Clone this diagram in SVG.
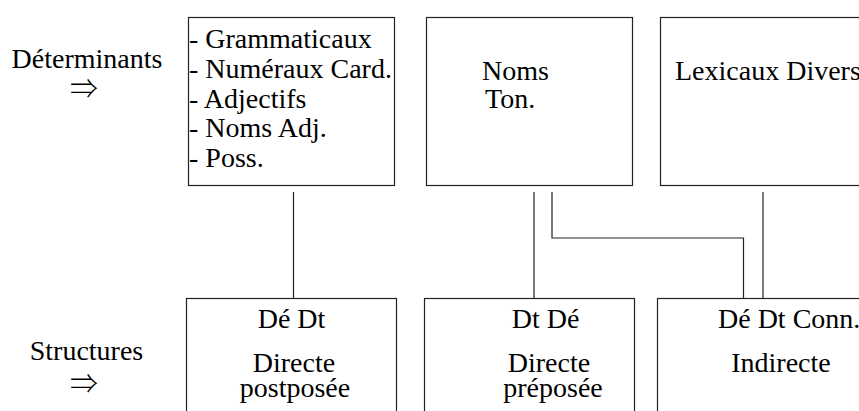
<svg xmlns="http://www.w3.org/2000/svg" width="859" height="411" viewBox="0 0 859 411">
  <style>
    .box { fill: #ffffff; stroke: #222222; stroke-width: 1.2; }
    .conn { fill: none; stroke: #222222; stroke-width: 1.2; }
    text { font-family: "Liberation Serif", "Times New Roman", serif; font-size: 28px; fill: #000000; }
    .mid { text-anchor: middle; }
    .arrow { font-family: "Noto Sans CJK JP", "DejaVu Serif", sans-serif; font-size: 28px; font-weight: 300; text-anchor: middle; }
  </style>
  <rect x="0" y="0" width="859" height="411" fill="#ffffff"/>

  <g id="label-determinants">
    <text class="mid" x="87" y="68">Déterminants</text>
    <text class="arrow" x="84" y="98.5">⇒</text>
  </g>
  <g id="label-structures">
    <text class="mid" x="86.5" y="360">Structures</text>
    <text class="arrow" x="84" y="393.5">⇒</text>
  </g>

  <g id="node-grammaticaux">
    <rect class="box" x="188.5" y="17.5" width="206" height="168"/>
    <text x="189" y="48">- Grammaticaux</text>
    <text x="189" y="77.8">- Numéraux Card.</text>
    <text x="189" y="107.6">- Adjectifs</text>
    <text x="189" y="137.4">- Noms Adj.</text>
    <text x="189" y="167.2">- Poss.</text>
  </g>
  <g id="node-noms-ton">
    <rect class="box" x="426.5" y="17.5" width="206" height="168"/>
    <text x="482" y="80">Noms</text>
    <text x="485" y="108">Ton.</text>
  </g>
  <g id="node-lexicaux">
    <rect class="box" x="660.5" y="17.5" width="220" height="168"/>
    <text x="675" y="80">Lexicaux Divers</text>
  </g>

  <g id="node-directe-postposee">
    <rect class="box" x="186.5" y="298.5" width="210" height="130"/>
    <text class="mid" x="291.5" y="328">Dé Dt</text>
    <text class="mid" x="294" y="372">Directe</text>
    <text class="mid" x="295" y="397">postposée</text>
  </g>
  <g id="node-directe-preposee">
    <rect class="box" x="424.5" y="298.5" width="210" height="130"/>
    <text class="mid" x="545.5" y="328">Dt Dé</text>
    <text class="mid" x="549" y="372">Directe</text>
    <text class="mid" x="553" y="397">préposée</text>
  </g>
  <g id="node-indirecte">
    <rect class="box" x="657.5" y="298.5" width="220" height="130"/>
    <text x="718" y="328">Dé Dt Conn.</text>
    <text class="mid" x="781" y="372">Indirecte</text>
  </g>

  <g id="connectors">
    <line class="conn" x1="293.5" y1="192" x2="293.5" y2="298.5"/>
    <line class="conn" x1="534" y1="192" x2="534" y2="298.5"/>
    <polyline class="conn" points="552,192 552,238 743.5,238 743.5,298.5"/>
    <line class="conn" x1="763" y1="192" x2="763" y2="298.5"/>
  </g>
</svg>
